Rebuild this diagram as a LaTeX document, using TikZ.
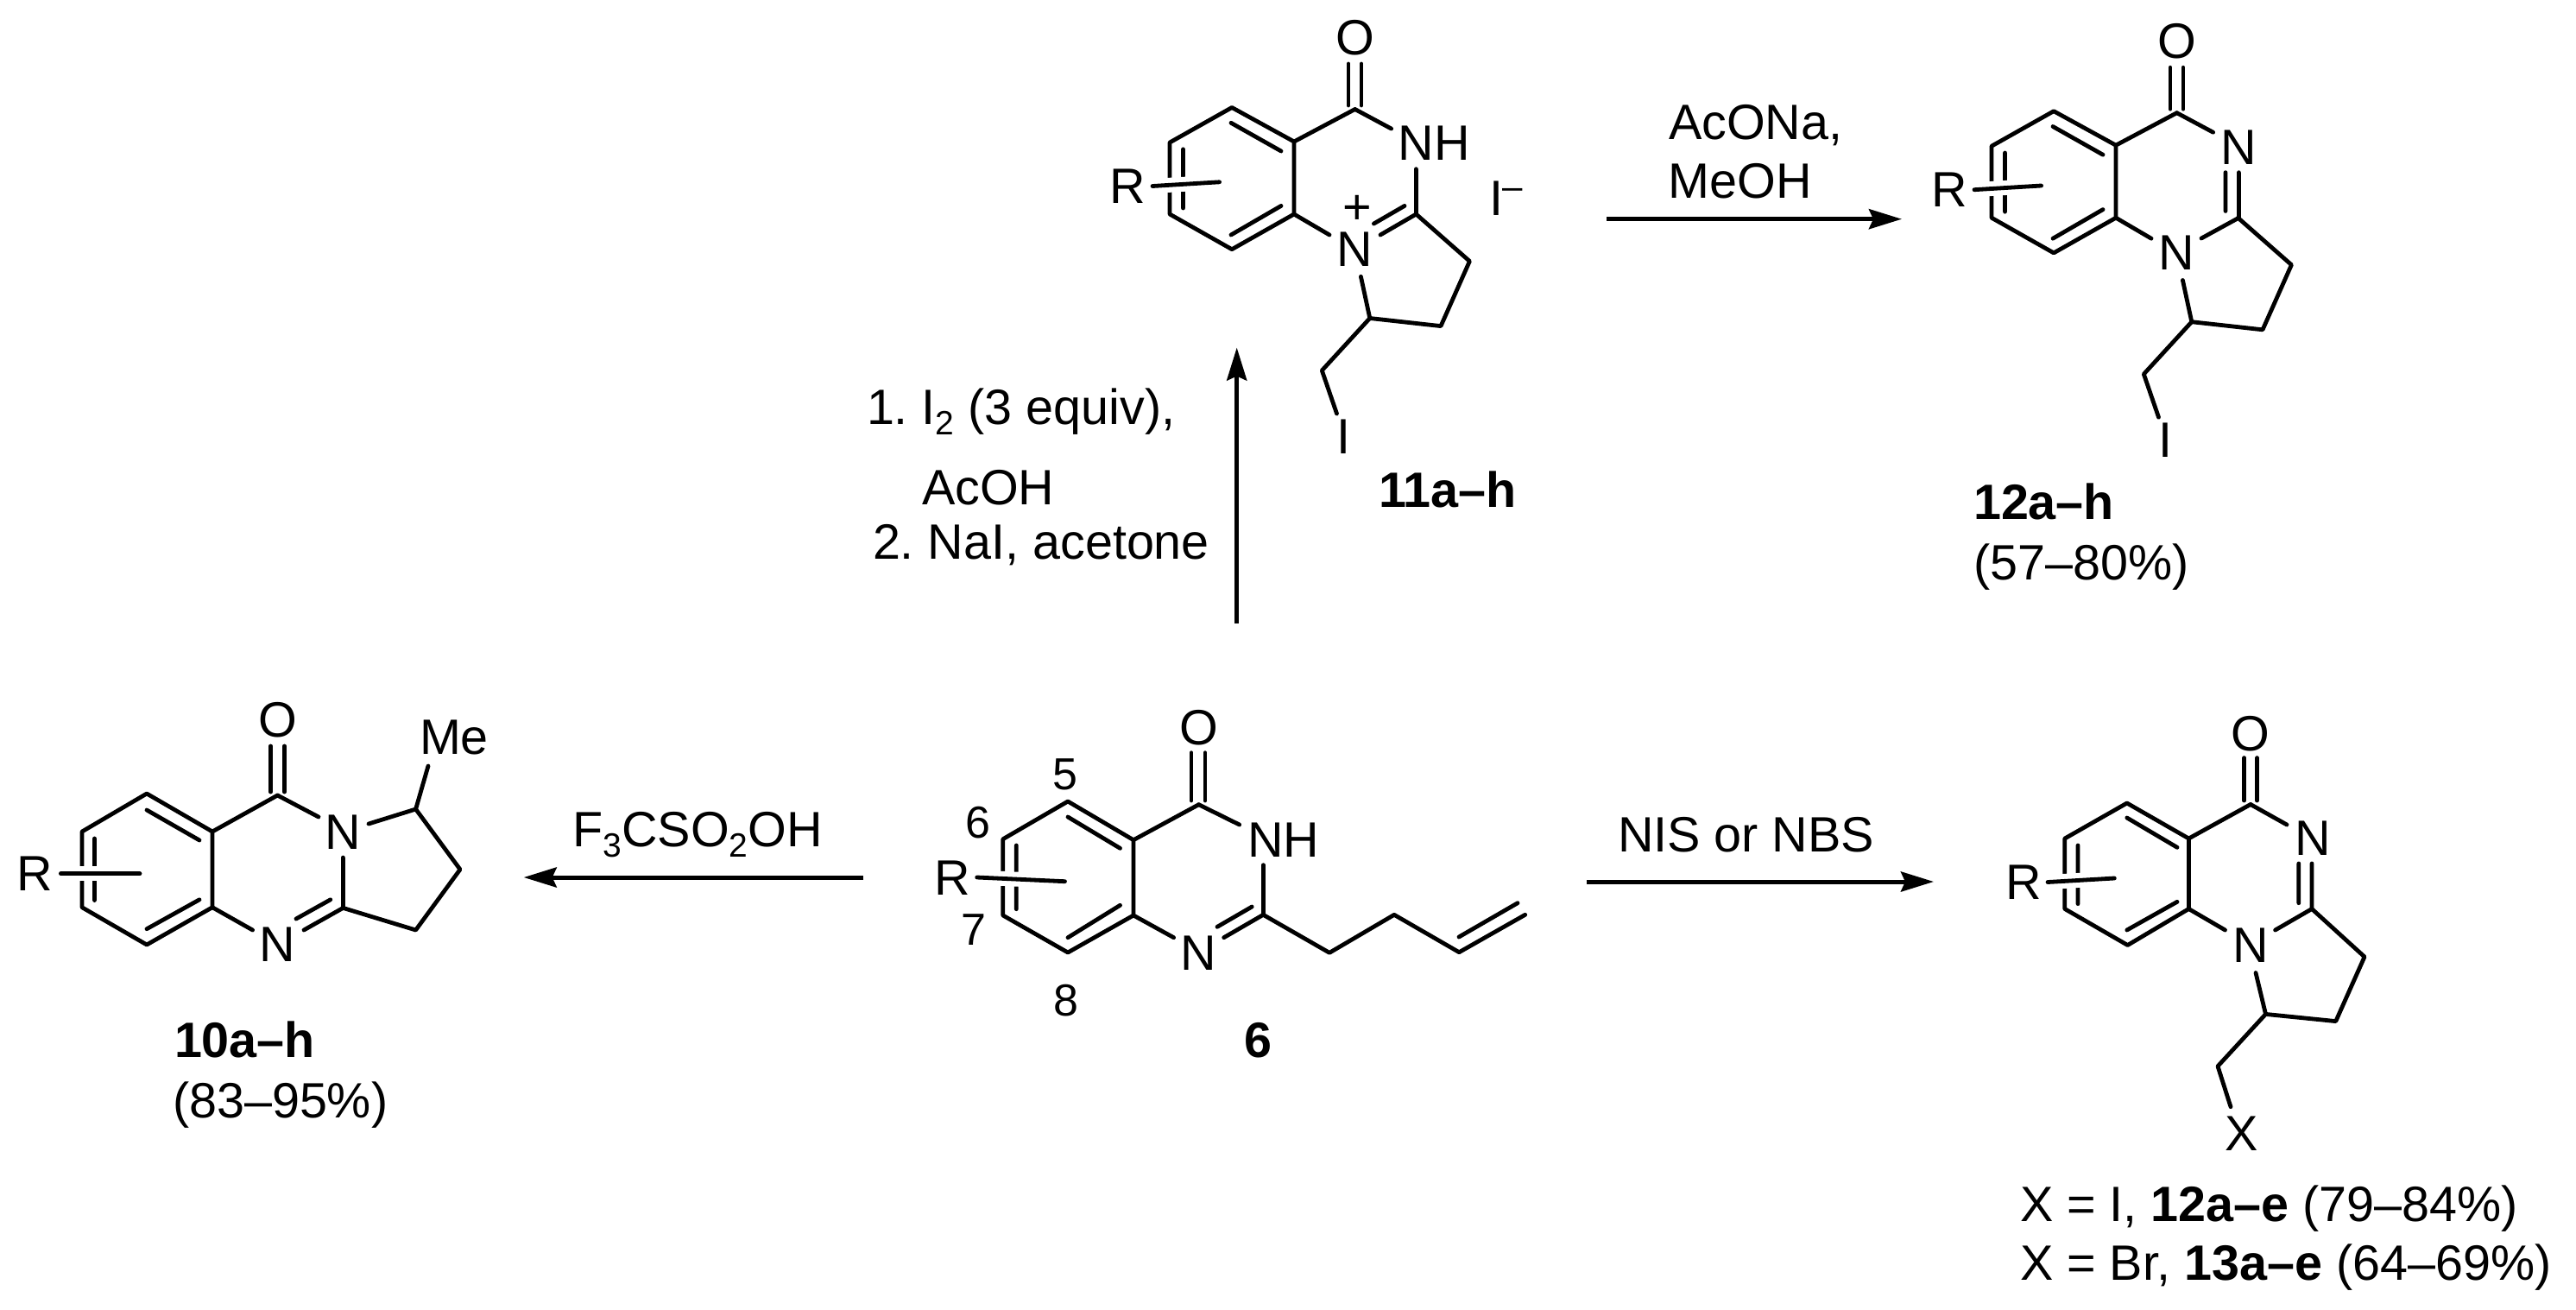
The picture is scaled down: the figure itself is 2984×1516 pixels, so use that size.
\documentclass[tikz,border=0pt]{standalone}
\usepackage{fontspec}
\setmainfont{Liberation Sans}
\usetikzlibrary{arrows.meta}
\frenchspacing
\newcommand\sbs[1]{\raisebox{-12pt}{\fontsize{39}{39}\selectfont #1}}
\tikzset{
  bond/.style={line width=4.8pt,line cap=round,line join=round,black},
  halo/.style={line width=17pt,white},
  atom/.style={inner sep=0pt,outer sep=0pt,font=\fontsize{57.5}{60}\selectfont},
  boldatom/.style={atom,font=\fontsize{57.5}{60}\selectfont\bfseries},
  small/.style={atom,font=\fontsize{52}{55}\selectfont},
  lab/.style={inner sep=0pt,outer sep=0pt,anchor=base west,font=\fontsize{57.5}{60}\selectfont},
  boldlab/.style={lab,font=\fontsize{57.5}{60}\selectfont\bfseries},
  rxn/.style={line width=5pt,-{Stealth[length=38pt,width=23pt,inset=5pt]}},
}
\newcommand\topcore{%
  \draw[bond] (1569.6,126.5)--(1499,164)--(1427,124.5)--(1355,165)--(1355,248)--(1427,288.7)--(1499,248)--(1499,164);
  \draw[bond] (1562,74)--(1562,122) (1577,74)--(1577,122);
  \draw[bond] (1426,142.3)--(1484,175) (1426,272)--(1484,238.4) (1370.5,172.8)--(1370.5,241);
  \draw[bond] (1499,248)--(1540,272);
  \draw[bond] (1640.4,248)--(1702.4,302.5)--(1669,377.6)--(1586.8,368.5)--(1576.4,320.3);
  \draw[bond] (1586.8,368.5)--(1531.3,429)--(1548.5,479);
  \draw[bond] (1569.6,126.5)--(1611.6,149);
  \draw[halo] (1335,215.5)--(1412.6,210.8);
  \draw[bond] (1335,215.5)--(1412.6,210.8);
}
\begin{document}
\begin{tikzpicture}[x=1pt,y=-1pt]
\useasboundingbox (0,0) rectangle (2984,1516);
% compound 11
\topcore
\draw[bond] (1640.4,195.7)--(1640.4,248)--(1599,272) (1627,238.4)--(1591.4,259);
\node[atom] (o11) at (1569.6,43.5) {O};
\node[atom] (nh11) at (1661,166) {NH};
\node[atom] (n11) at (1569.6,288.7) {N};
\node[atom] (plus11) at (1572.6,243) {+};
\node[atom] (i11) at (1556,506) {I};
\node[atom] (r11) at (1306.6,216) {R};
\node[lab] (ion11) at (1725,249) {I\raisebox{0.32em}{\fontsize{42}{42}\selectfont –}};
\node[boldlab] (name11) at (1597,587) {11a–h};
% compound 12 (top)
\begin{scope}[shift={(952,4.2)}]
\topcore
\end{scope}
\draw[bond] (2578,199.7)--(2578,244.4) (2593.4,199.7)--(2593.4,252.2)--(2550,276);
\node[atom] (o12) at (2521.5,47.7) {O};
\node[atom] (n12a) at (2593.4,170.8) {N};
\node[atom] (n12b) at (2521.5,293) {N};
\node[atom] (i12) at (2508.8,510.2) {I};
\node[atom] (r12) at (2258.6,220.2) {R};
\node[boldlab] (name12) at (2286,601.7) {12a–h};
\node[lab] (yield12) at (2286,671.7) {(57–80\%)};
% compound 10
\draw[bond] (321.5,921)--(246,963)--(170,919)--(95,963)--(95,1050.7)--(170,1094)--(246,1050.7)--(246,963);
\draw[bond] (313.6,864)--(313.6,917) (329.4,864)--(329.4,917);
\draw[bond] (170,938)--(231,973) (170,1075.7)--(231,1041.8) (109.5,971)--(109.5,1042.5);
\draw[bond] (321.5,921)--(369,946);
\draw[bond] (427,954)--(481.6,937)--(533,1006.8)--(481.6,1077)--(397.4,1051.4)--(397.4,993);
\draw[bond] (481.6,937)--(496,887);
\draw[bond] (246,1050.7)--(292.6,1077) (397.4,1051.4)--(352,1077) (382.8,1041.8)--(343,1064);
\draw[halo] (70.4,1011.8)--(162,1011.8);
\draw[bond] (70.4,1011.8)--(162,1011.8);
\node[atom] (o10) at (321.5,833.6) {O};
\node[atom] (n10a) at (397.4,964) {N};
\node[atom] (n10b) at (321.5,1093.6) {N};
\node[atom] (me10) at (526,854) {Me};
\node[atom] (r10) at (40.7,1012) {R};
\node[boldlab] (name10) at (202,1224.6) {10a–h};
\node[lab] (yield10) at (200,1294) {(83–95\%)};
% compound 6
\draw[bond] (1388.6,931.7)--(1313,972.7)--(1237,928)--(1161.8,971.7)--(1161.8,1060)--(1237,1103)--(1313,1060)--(1313,972.7);
\draw[bond] (1380,871.7)--(1380,927) (1396,871.7)--(1396,927);
\draw[bond] (1237,946)--(1297.5,982.3) (1237,1085.7)--(1297.5,1048.3) (1177.3,979)--(1177.3,1052.7);
\draw[bond] (1388.6,931.7)--(1435.7,955);
\draw[bond] (1463.3,1001.7)--(1463.3,1059.3);
\draw[bond] (1313,1060)--(1359.6,1085.7) (1417.7,1085.7)--(1463.3,1059.3) (1450.2,1050)--(1410,1073.3);
\draw[bond] (1463.3,1059.3)--(1540,1103.3)--(1615,1059.3)--(1690.2,1102.7)--(1766.7,1059.3) (1690,1085)--(1758,1045.7);
\draw[halo] (1131.7,1016)--(1233.5,1020.7);
\draw[bond] (1131.7,1016)--(1233.5,1020.7);
\node[atom] (o6) at (1388.6,842.3) {O};
\node[atom] (nh6) at (1486.6,972.7) {NH};
\node[atom] (n6) at (1388.6,1103.3) {N};
\node[atom] (r6) at (1103.6,1016.7) {R};
\node[small] (p5) at (1233.5,896.7) {5};
\node[small] (p6) at (1132.7,952.3) {6};
\node[small] (p7) at (1127.9,1076.7) {7};
\node[small] (p8) at (1234.5,1159) {8};
\node[boldatom] (name6) at (1457.5,1205) {6};
% compound 12 (bottom)
\draw[bond] (2607,931.5)--(2535.4,971)--(2463.8,930)--(2391.8,971)--(2391.8,1052.5)--(2464.6,1094.5)--(2535.4,1052.5)--(2535.4,971);
\draw[bond] (2599.7,877.6)--(2599.7,927) (2614.6,877.6)--(2614.6,927);
\draw[bond] (2463.8,947)--(2522,981.3) (2463.8,1077)--(2522,1044.3) (2407,979)--(2407,1046.6);
\draw[bond] (2607,931.5)--(2649,955);
\draw[bond] (2662.8,1000)--(2662.8,1045.7) (2678,1000)--(2678,1052.5)--(2635.6,1077);
\draw[bond] (2535.4,1052.5)--(2577.5,1077);
\draw[bond] (2678,1052.5)--(2739,1108)--(2705.7,1182.6)--(2624.5,1174.4)--(2613,1126.5);
\draw[bond] (2624.5,1174.4)--(2569,1234.7)--(2584,1281.7);
\draw[halo] (2372,1021.5)--(2449.3,1017);
\draw[bond] (2372,1021.5)--(2449.3,1017);
\node[atom] (o13) at (2607,849.3) {O};
\node[atom] (n13a) at (2678.9,971) {N};
\node[atom] (n13b) at (2607,1094.5) {N};
\node[atom] (x13) at (2596.6,1312.3) {X};
\node[atom] (r13) at (2344,1021.5) {R};
\node[lab] (line1) at (2340,1414.3) {X = I, \textbf{12a–e} (79–84\%)};
\node[lab] (line2) at (2340,1482.3) {X = Br, \textbf{13a–e} (64–69\%)};
% arrows
\coordinate (a1s) at (1432.7,721.7); \coordinate (a1e) at (1432.7,402.5);
\coordinate (a2s) at (1861,253.7); \coordinate (a2e) at (2203,253.7);
\coordinate (a3s) at (1000,1016); \coordinate (a3e) at (606.7,1016);
\coordinate (a4s) at (1838,1021); \coordinate (a4e) at (2240,1021);
\draw[rxn] (a1s)--(a1e);
\draw[rxn] (a2s)--(a2e);
\draw[rxn] (a3s)--(a3e);
\draw[rxn] (a4s)--(a4e);
% conditions
\node[lab] (c1) at (1004,491.7) {1. I\sbs{2} (3 equiv),};
\node[lab] (c2) at (1068,584) {AcOH};
\node[lab] (c3) at (1011,647.3) {2. NaI, acetone};
\node[lab] (c4) at (1933,161.7) {AcONa,};
\node[lab] (c5) at (1932.7,229.3) {MeOH};
\node[lab] (c6) at (663.5,980) {F\sbs{3}CSO\sbs{2}OH};
\node[lab] (c7) at (1874,986) {NIS or NBS};
\end{tikzpicture}
\end{document}
